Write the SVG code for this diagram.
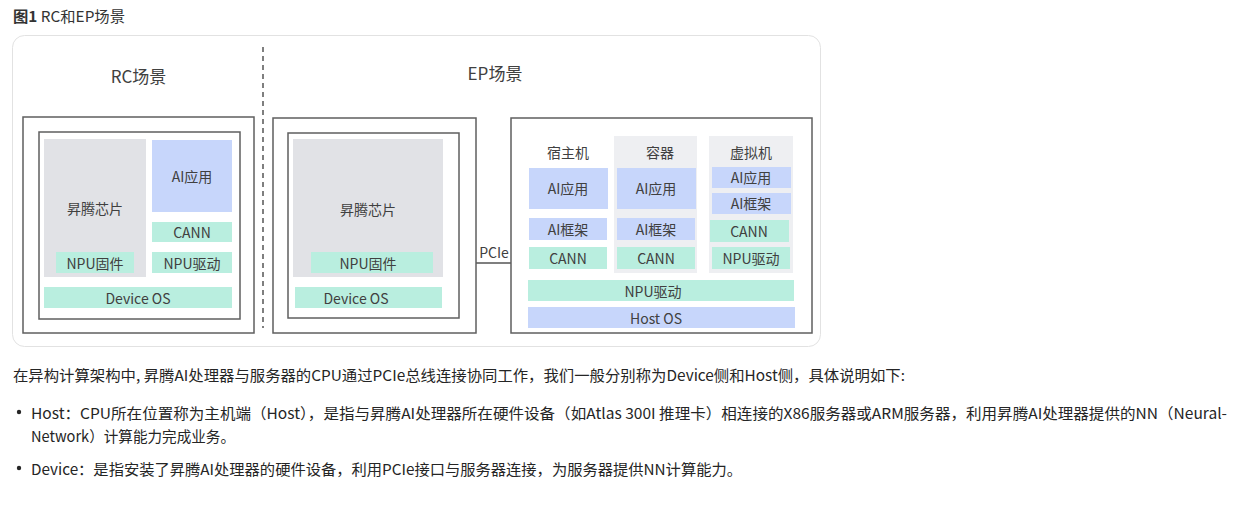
<svg xmlns="http://www.w3.org/2000/svg" width="1247" height="506" viewBox="0 0 1247 506">
<style>
.frame{fill:#fff;stroke:#e2e2e2;stroke-width:1}
.box{fill:#fff;stroke:#5f5f5f;stroke-width:1.5}
.blue{fill:#c7d6fb}
.green{fill:#b9eedf}
.chip{fill:#e1e2e6}
.col{fill:#eeeff2}
.t{font-family:"Noto Sans CJK SC","Noto Sans",sans-serif;font-size:14px;fill:#404040;text-anchor:middle;dominant-baseline:central}
.h{font-family:"Noto Sans CJK SC","Noto Sans",sans-serif;font-size:17px;fill:#404040;text-anchor:middle;dominant-baseline:central}
.p{font-family:"Noto Sans CJK SC","Noto Sans",sans-serif;font-size:15px;fill:#252525;dominant-baseline:central}
.cap{font-family:"Noto Sans CJK SC","Noto Sans",sans-serif;font-size:15px;fill:#333;dominant-baseline:central}
.line{stroke:#555;stroke-width:1.5;fill:none}
</style>

<text class="cap" x="13" y="15" textLength="112" lengthAdjust="spacingAndGlyphs"><tspan font-weight="bold">图1</tspan> RC和EP场景</text>

<rect class="frame" x="12.5" y="35.5" width="808" height="311" rx="12"/>

<g id="connectors">
  <line class="line" x1="263" y1="47" x2="263" y2="328" stroke-dasharray="5,4"/>
  <line class="line" x1="476" y1="263" x2="511" y2="263"/>
  <text class="t" x="494" y="252">PCIe</text>
</g>

<g id="rc-scene">
  <text class="h" x="138.5" y="75">RC场景</text>
  <rect class="box" x="23" y="117" width="231" height="216"/>
  <rect class="box" x="39" y="132" width="201" height="187"/>
  <g id="rc-chip">
    <rect class="chip" x="44" y="139" width="102" height="138"/>
    <text class="t" x="95" y="208">昇腾芯片</text>
  </g>
  <g id="rc-npu-fw">
    <rect class="green" x="56" y="252" width="78" height="21"/>
    <text class="t" x="95" y="262.5">NPU固件</text>
  </g>
  <g id="rc-ai-app">
    <rect class="blue" x="152" y="140" width="80" height="72"/>
    <text class="t" x="192" y="176">AI应用</text>
  </g>
  <g id="rc-cann">
    <rect class="green" x="152" y="222" width="80" height="20"/>
    <text class="t" x="192" y="232">CANN</text>
  </g>
  <g id="rc-npu-drv">
    <rect class="green" x="152" y="252" width="80" height="21"/>
    <text class="t" x="192" y="262.5">NPU驱动</text>
  </g>
  <g id="rc-device-os">
    <rect class="green" x="44" y="287" width="188" height="21"/>
    <text class="t" x="138" y="297.5">Device OS</text>
  </g>
</g>

<g id="ep-scene">
  <text class="h" x="495" y="72">EP场景</text>
</g>

<g id="ep-device">
  <rect class="box" x="273" y="118" width="203" height="215"/>
  <rect class="box" x="288" y="133" width="171" height="185"/>
  <g id="ep-chip">
    <rect class="chip" x="293" y="139" width="150" height="138"/>
    <text class="t" x="368" y="208.5">昇腾芯片</text>
  </g>
  <g id="ep-npu-fw">
    <rect class="green" x="311" y="252" width="122" height="21"/>
    <text class="t" x="368" y="262.5">NPU固件</text>
  </g>
  <g id="ep-device-os">
    <rect class="green" x="295" y="287" width="147" height="21"/>
    <text class="t" x="356" y="297.5">Device OS</text>
  </g>
</g>

<g id="ep-host">
  <rect class="box" x="511" y="118" width="301" height="215"/>
  <rect class="col" x="614" y="136" width="83" height="137"/>
  <rect class="col" x="709" y="136" width="84" height="137"/>
  <g id="host-col">
    <text class="t" x="568" y="152">宿主机</text>
    <rect class="blue" x="529" y="168" width="79" height="41"/>
    <text class="t" x="568" y="188">AI应用</text>
    <rect class="blue" x="529" y="218" width="78" height="22"/>
    <text class="t" x="568" y="229">AI框架</text>
    <rect class="green" x="529" y="247" width="78" height="22"/>
    <text class="t" x="568" y="258">CANN</text>
  </g>
  <g id="container-col">
    <text class="t" x="660" y="152">容器</text>
    <rect class="blue" x="617" y="168" width="79" height="41"/>
    <text class="t" x="656" y="188">AI应用</text>
    <rect class="blue" x="617" y="218" width="78" height="22"/>
    <text class="t" x="656" y="229">AI框架</text>
    <rect class="green" x="617" y="247" width="78" height="22"/>
    <text class="t" x="656" y="258">CANN</text>
  </g>
  <g id="vm-col">
    <text class="t" x="751" y="152">虚拟机</text>
    <rect class="blue" x="712" y="167" width="79" height="21"/>
    <text class="t" x="751" y="177">AI应用</text>
    <rect class="blue" x="712" y="193" width="79" height="21"/>
    <text class="t" x="751" y="203">AI框架</text>
    <rect class="green" x="710" y="220" width="79" height="22"/>
    <text class="t" x="749" y="231">CANN</text>
    <rect class="green" x="712" y="247" width="78" height="22"/>
    <text class="t" x="751" y="258">NPU驱动</text>
  </g>
  <g id="host-npu-drv">
    <rect class="green" x="528" y="280" width="266" height="21"/>
    <text class="t" x="653" y="290.5">NPU驱动</text>
  </g>
  <g id="host-os">
    <rect class="blue" x="528" y="307" width="267" height="21"/>
    <text class="t" x="656" y="317.5">Host OS</text>
  </g>
</g>

<g id="description">
  <text class="p" x="13" y="374" textLength="892" lengthAdjust="spacingAndGlyphs">在异构计算架构中, 昇腾AI处理器与服务器的CPU通过PCIe总线连接协同工作，我们一般分别称为Device侧和Host侧，具体说明如下:</text>
  <circle cx="19" cy="412" r="2.2" fill="#252525"/>
  <text class="p" x="31" y="412" textLength="1196" lengthAdjust="spacingAndGlyphs">Host：CPU所在位置称为主机端（Host），是指与昇腾AI处理器所在硬件设备（如Atlas 300I 推理卡）相连接的X86服务器或ARM服务器，利用昇腾AI处理器提供的NN（Neural-</text>
  <text class="p" x="31" y="435" textLength="204" lengthAdjust="spacingAndGlyphs">Network）计算能力完成业务。</text>
  <circle cx="19" cy="468" r="2.2" fill="#252525"/>
  <text class="p" x="31" y="468" textLength="711" lengthAdjust="spacingAndGlyphs">Device：是指安装了昇腾AI处理器的硬件设备，利用PCIe接口与服务器连接，为服务器提供NN计算能力。</text>
</g>
</svg>
